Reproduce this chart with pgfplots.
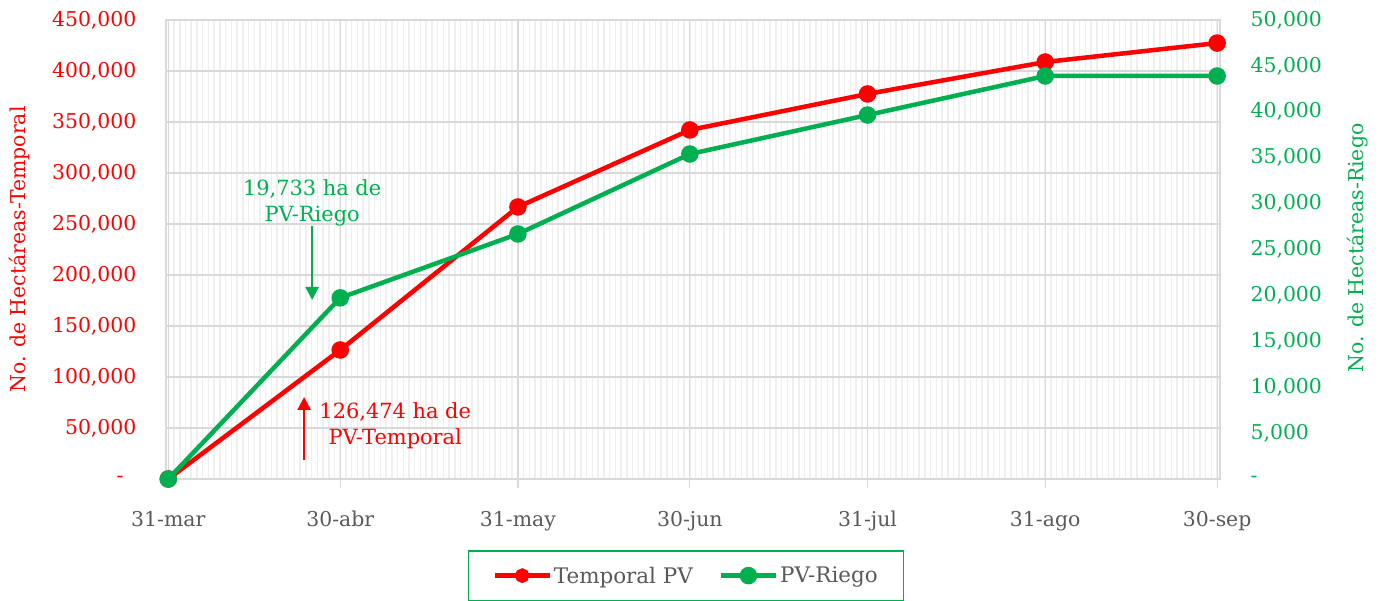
\documentclass[border=0pt]{standalone}
\usepackage{fontspec}
\setmainfont{DejaVu Serif}
\usepackage{pgfplots}
\pgfplotsset{compat=1.18}
\usetikzlibrary{arrows.meta}
\definecolor{cred}{HTML}{FF0000}
\definecolor{cgreen}{HTML}{00B050}
\definecolor{ctext}{HTML}{595959}
\definecolor{cgrid}{HTML}{D9D9D9}
\definecolor{cminor}{HTML}{EFEFEF}
\newcommand{\tf}{\fontsize{20.5}{24}\selectfont}
\pgfplotsset{
  common/.style={
    at={(166bp,122bp)}, anchor=south west, scale only axis,
    width=1054bp, height=459bp,
    xmin=-0.4, xmax=183.5, ymin=0,
    clip=false,
    scaled y ticks=false, scaled x ticks=false,
    /pgf/number format/assume math mode=true,
  },
}
\begin{document}
\begin{tikzpicture}
\path[use as bounding box] (0,0) rectangle (1378bp,601bp);
\begin{axis}[common,
  ymax=450000,
  axis line style={draw=cgrid, line width=1.2bp},
  xtick={0,30,61,91,122,153,183},
  xticklabels={31-mar,30-abr,31-may,30-jun,31-jul,31-ago,30-sep},
  minor xtick={0,1,...,183},
  xtick pos=bottom, xtick align=outside,
  major tick length=9bp, minor tick length=0pt,
  xtick style={draw=cgrid, line width=1.2bp},
  xticklabel style={font=\tf, text=ctext, yshift=-20bp, text height=15bp, text depth=4bp},
  ytick={0,50000,...,450000},
  yticklabels={{-\hphantom{0}},{50,000},{100,000},{150,000},{200,000},{250,000},{300,000},{350,000},{400,000},{450,000}},
  ytick style={draw=none},
  yticklabel style={font=\tf, text=cred, xshift=-26bp},
  grid=both,
  major grid style={draw=cgrid, line width=1.2bp},
  minor grid style={draw=cminor, line width=1.5bp},
  ylabel={No. de Hectáreas-Temporal},
  every axis y label/.style={at={(axis description cs:-0.1395,0.5)}, rotate=90, anchor=center, font=\tf, text=cred},
]
\addplot[cred, line width=4.5bp, mark=*, mark size=6.5bp, mark options={solid}] coordinates {
  (0,0) (30,126474) (61,266700) (91,342200) (122,377500) (153,408800) (183,427400)
};
\node[text=cgreen, align=center, font=\fontsize{21}{26}\selectfont] at (axis cs:25.1,270600) {19,733 ha de\\PV-Riego};
\draw[cgreen, line width=2.5bp, -{Triangle[width=13bp,length=13bp]}] (axis cs:25.1,248000) -- (axis cs:25.1,175500);
\node[text=cred, align=center, font=\fontsize{21}{26}\selectfont] at (axis cs:39.6,51960) {126,474 ha de\\PV-Temporal};
\draw[cred, line width=2.5bp, -{Triangle[width=13bp,length=13bp]}] (axis cs:23.7,18600) -- (axis cs:23.7,80400);
\end{axis}
\begin{axis}[common,
  ymax=50000,
  axis y line*=right, axis x line=none,
  y axis line style={draw=none},
  ytick={0,5000,...,50000},
  yticklabels={{-},{5,000},{10,000},{15,000},{20,000},{25,000},{30,000},{35,000},{40,000},{45,000},{50,000}},
  ytick style={draw=none},
  yticklabel style={font=\tf, text=cgreen, xshift=27bp},
  ylabel={No. de Hectáreas-Riego},
  every axis y label/.style={at={(axis description cs:1.131,0.503)}, rotate=90, anchor=center, font=\tf, text=cgreen},
  legend columns=2,
  legend style={at={(0.4934,-0.1547)}, anchor=north, draw=cgreen, line width=1.5bp,
    font=\fontsize{21.5}{24}\selectfont, text=ctext, inner xsep=24bp, inner ysep=14bp,
    /tikz/every even column/.append style={column sep=24bp}},
  legend image code/.code={\draw[mark repeat=2,mark phase=2,#1] plot coordinates {(0bp,0bp) (27.5bp,0bp) (55bp,0bp)};},
]
\addlegendimage{cred, line width=4.5bp, mark=*, mark size=5bp, mark options={solid}}
\addlegendentry{Temporal PV}
\addplot[cgreen, line width=4.5bp, mark=*, mark size=6.5bp, mark options={solid}] coordinates {
  (0,0) (30,19733) (61,26690) (91,35400) (122,39650) (153,43900) (183,43900)
};
\addlegendentry{PV-Riego}
\end{axis}
\end{tikzpicture}
\end{document}
